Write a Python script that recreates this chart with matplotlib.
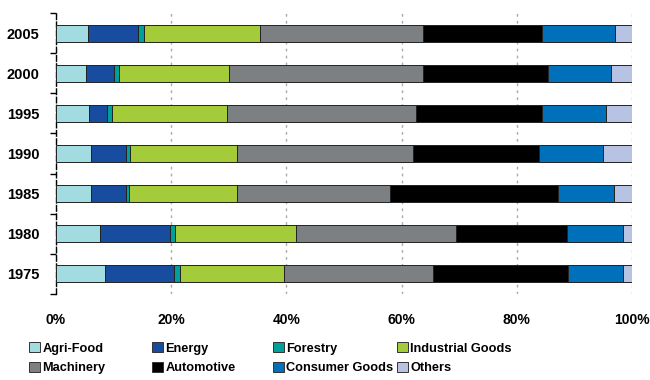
import matplotlib
matplotlib.use('Agg')
import matplotlib.pyplot as plt
import numpy as np
from matplotlib.patches import Patch

plt.rcParams['font.family'] = ['Liberation Sans', 'DejaVu Sans']

# data (share of total, %)
years = ['1975', '1980', '1985', '1990', '1995', '2000', '2005']
sectors = ['Agri-Food', 'Energy', 'Forestry', 'Industrial Goods',
           'Machinery', 'Automotive', 'Consumer Goods', 'Others']
agri_food   = [8.5, 7.6, 6.0, 6.1, 5.8, 5.2, 5.6]
energy      = [11.9, 12.2, 6.1, 6.0, 3.0, 4.8, 8.7]
forestry    = [1.2, 0.8, 0.6, 0.8, 1.0, 0.9, 1.0]
industrial  = [18.0, 21.1, 18.8, 18.6, 19.9, 19.1, 20.2]
machinery   = [25.9, 27.7, 26.5, 30.5, 32.8, 33.8, 28.3]
automotive  = [23.4, 19.3, 29.2, 21.9, 21.9, 21.6, 20.5]
consumer    = [9.6, 9.7, 9.7, 11.1, 11.1, 10.9, 12.7]
others      = [1.5, 1.6, 3.1, 5.0, 4.5, 3.7, 3.0]

series = [agri_food, energy, forestry, industrial, machinery, automotive, consumer, others]
colors = ['#A2DCE0', '#174C9E', '#00A09A', '#A4CC3A',
          '#7C8083', '#000000', '#0070BA', '#B8C2E3']

fig = plt.figure(figsize=(6.5, 3.8), dpi=100)
ax = fig.add_axes([56/650, 1 - 294/380, 576/650, 281/380])

y = np.arange(len(years))
left = np.zeros(len(years))
for vals, c in zip(series, colors):
    vals = np.array(vals)
    ax.barh(y, vals, left=left, height=0.42, color=c,
            edgecolor='#222222', linewidth=0.7, zorder=3)
    left += vals

ax.set_xlim(0, 100)
ax.set_ylim(-0.5, len(years) - 0.5)
ax.set_xticks([0, 20, 40, 60, 80, 100])
ax.set_xticklabels(['0%', '20%', '40%', '60%', '80%', '100%'],
                   fontsize=10, fontweight='bold')
ax.set_yticks(y)
ax.set_yticklabels(years, fontsize=10.5, fontweight='bold')
ax.set_yticks(np.arange(-0.5, len(years)), minor=True)
ax.tick_params(axis='y', which='major', length=0, pad=12)
ax.tick_params(axis='y', which='minor', length=4, width=1, color='black')
ax.tick_params(axis='x', length=0, pad=14)

ax.xaxis.grid(True, linestyle=(0, (2, 3)), color='#aaaaaa', linewidth=1, zorder=0)
for s in ['top', 'right', 'bottom']:
    ax.spines[s].set_visible(False)
ax.spines['left'].set_linestyle((0, (4, 2)))
ax.spines['left'].set_linewidth(1)

# legend: four columns, each its own legend so the columns sit like the original
handles = [Patch(facecolor=c, edgecolor='#333333', linewidth=0.7, label=s)
           for s, c in zip(sectors, colors)]
col_x = [29, 152, 273, 397]
for k, x0 in enumerate(col_x):
    pair = [handles[k], handles[k + 4]]
    fig.legend(pair, [h.get_label() for h in pair],
               loc='upper left', bbox_to_anchor=(x0 / 650, 1 - 342 / 380),
               frameon=False, borderpad=0, borderaxespad=0,
               handlelength=0.85, handleheight=0.85, handletextpad=0.2,
               labelspacing=0.55, prop={'size': 9.2, 'weight': 'bold'})

fig.savefig('out.png', dpi=100, facecolor='white')
